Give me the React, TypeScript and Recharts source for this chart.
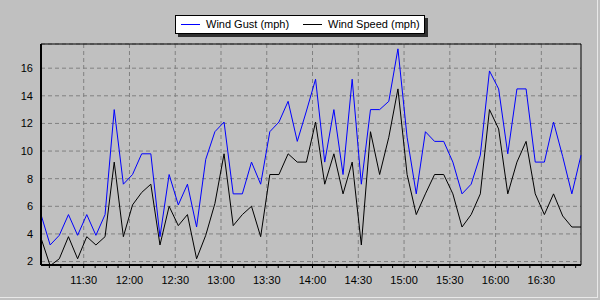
import React from 'react'
import { LineChart, Line, XAxis, YAxis, CartesianGrid, ReferenceLine } from 'recharts'

/* Wind gust / wind speed, 6-minute samples */

const TIMES = [
  '11:02', '11:08', '11:14', '11:20', '11:26', '11:32', '11:38', '11:44', '11:50', '11:56',
  '12:02', '12:08', '12:14', '12:20', '12:26', '12:32', '12:38', '12:44', '12:50', '12:56',
  '13:02', '13:08', '13:14', '13:20', '13:26', '13:32', '13:38', '13:44', '13:50', '13:56',
  '14:02', '14:08', '14:14', '14:20', '14:26', '14:32', '14:38', '14:44', '14:50', '14:56',
  '15:02', '15:08', '15:14', '15:20', '15:26', '15:32', '15:38', '15:44', '15:50', '15:56',
  '16:02', '16:08', '16:14', '16:20', '16:26', '16:32', '16:38', '16:44', '16:50', '16:56',
]

const GUST = [
  5.4, 3.2, 3.9, 5.4, 3.9, 5.4, 3.9, 5.4, 13.0, 7.6,
  8.3, 9.8, 9.8, 3.8, 8.3, 6.1, 7.6, 4.5, 9.4, 11.4,
  12.1, 6.9, 6.9, 9.2, 7.6, 11.4, 12.1, 13.6, 10.7, 12.9,
  15.2, 9.2, 13.0, 8.3, 15.2, 7.6, 13.0, 13.0, 13.6, 17.4,
  11.0, 6.9, 11.4, 10.7, 10.7, 9.2, 6.9, 7.6, 9.7, 15.8,
  14.5, 9.8, 14.5, 14.5, 9.2, 9.2, 12.1, 9.6, 6.9, 9.7,
]

const SPEED = [
  3.7, 1.7, 2.2, 3.8, 2.2, 3.8, 3.2, 3.8, 9.2, 3.8,
  6.1, 7.0, 7.6, 3.2, 6.0, 4.6, 5.4, 2.2, 3.9, 6.2,
  9.8, 4.6, 5.4, 6.0, 3.8, 8.3, 8.3, 9.8, 9.2, 9.2,
  12.1, 7.6, 9.8, 6.9, 9.2, 3.2, 11.4, 8.3, 11.0, 14.5,
  8.3, 5.4, 6.9, 8.3, 8.3, 6.9, 4.5, 5.4, 6.9, 13.0,
  11.6, 6.9, 9.2, 10.7, 6.9, 5.4, 6.9, 5.3, 4.5, 4.5,
]

const TIME_LABELS = ['11:30', '12:00', '12:30', '13:00', '13:30', '14:00', '14:30', '15:00', '15:30', '16:00', '16:30']
const Y_TICKS = [2, 4, 6, 8, 10, 12, 14, 16]
const Y_DOMAIN = [1.75, 17.75]

const BG = '#c0c0c0'
const GRID = '#808080'
const FONT = '"Liberation Sans", Arial, sans-serif'

function toMin(s: string): number {
  const [h, m] = s.split(':').map(Number)
  return h * 60 + m
}

const data = TIMES.map((t, i) => ({ t: toMin(t), gust: GUST[i], speed: SPEED[i] }))
const tMin = data[0].t
const tMax = data[data.length - 1].t
const majorTicks = TIME_LABELS.map(toMin)

// small ticks every 7.5 min along the bottom axis
const minorTicks: number[] = []
for (let v = majorTicks[0] - 22.5; v <= majorTicks[majorTicks.length - 1] + 22.5; v += 7.5) {
  if (v >= tMin && v <= tMax) minorTicks.push(v)
}

const fmtTime = (v: number) => {
  const i = majorTicks.indexOf(v)
  return i >= 0 ? TIME_LABELS[i] : ''
}

function LegendBox() {
  return (
    <div
      style={{
        position: 'absolute',
        left: 175,
        top: 15,
        width: 248,
        height: 17,
        background: '#fff',
        border: '1px solid #000',
        boxShadow: '3px 3px 0 #303030',
        fontFamily: FONT,
        fontSize: 11,
        color: '#000',
      }}
    >
      <div style={{ position: 'absolute', left: 5, top: 8, width: 19, height: 1, background: '#0000ff' }} />
      <span style={{ position: 'absolute', left: 30, top: 2, whiteSpace: 'nowrap' }}>Wind Gust (mph)</span>
      <div style={{ position: 'absolute', left: 127, top: 8, width: 19, height: 1, background: '#000' }} />
      <span style={{ position: 'absolute', left: 152, top: 2, whiteSpace: 'nowrap' }}>Wind Speed (mph)</span>
    </div>
  )
}

export default function App() {
  return (
    <div style={{ position: 'absolute', left: 0, top: 0, width: 600, height: 300, background: BG, overflow: 'hidden' }}>
      <LineChart
        width={600}
        height={300}
        data={data}
        margin={{ top: 44, right: 19, bottom: 0, left: 0 }}
        style={{ fontFamily: FONT, fontSize: 11 }}
      >
        <CartesianGrid vertical={false} stroke={GRID} strokeDasharray="4 3" />
        {/* vertical grid on the half hours */}
        {majorTicks.map((v) => (
          <ReferenceLine key={v} x={v} stroke={GRID} strokeDasharray="4 3" />
        ))}
        {/* plot frame, top and right */}
        <ReferenceLine y={Y_DOMAIN[1]} stroke="#000" />
        <ReferenceLine x={tMax} stroke="#000" />
        <XAxis
          dataKey="t"
          type="number"
          domain={[tMin, tMax]}
          ticks={minorTicks}
          interval={0}
          tickFormatter={fmtTime}
          height={35}
          tickSize={3}
          tickMargin={8}
          tick={{ fill: '#000', fontSize: 11 }}
          tickLine={{ stroke: '#000' }}
          axisLine={{ stroke: '#000', strokeWidth: 2 }}
        />
        <YAxis
          type="number"
          domain={Y_DOMAIN}
          allowDataOverflow
          ticks={Y_TICKS}
          interval={0}
          width={41}
          tickSize={0}
          tickMargin={8}
          tick={{ fill: '#000', fontSize: 11 }}
          tickLine={false}
          axisLine={{ stroke: '#000', strokeWidth: 2 }}
        />
        <Line
          type="linear"
          dataKey="gust"
          name="Wind Gust (mph)"
          stroke="#0000ff"
          strokeWidth={1}
          dot={false}
          activeDot={false}
          isAnimationActive={false}
        />
        <Line
          type="linear"
          dataKey="speed"
          name="Wind Speed (mph)"
          stroke="#000"
          strokeWidth={1}
          dot={false}
          activeDot={false}
          isAnimationActive={false}
        />
      </LineChart>
      <LegendBox />
      {/* light frame edge at right / bottom */}
      <div style={{ position: 'absolute', left: 0, top: 0, width: 597, height: 297, borderRight: '1px solid #e8e8e8', borderBottom: '1px solid #e8e8e8' }} />
    </div>
  )
}
